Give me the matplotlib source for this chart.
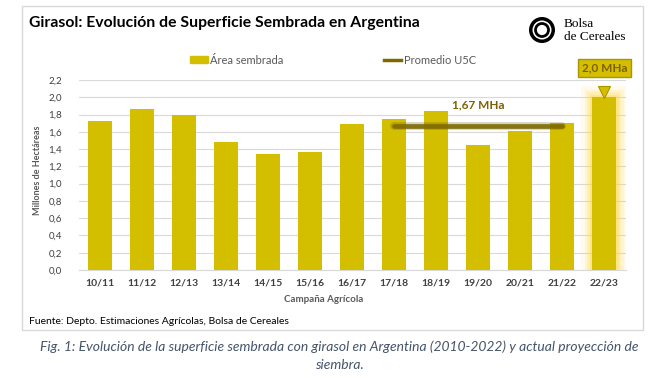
import numpy as np
import matplotlib
matplotlib.use("Agg")
import matplotlib.pyplot as plt
from matplotlib.patches import Rectangle, Ellipse, Patch
from matplotlib.lines import Line2D

plt.rcParams['font.family'] = ['Lato', 'DejaVu Sans']

campanas = ['10/11', '11/12', '12/13', '13/14', '14/15', '15/16', '16/17',
            '17/18', '18/19', '19/20', '20/21', '21/22', '22/23']
area = [1.72, 1.86, 1.79, 1.48, 1.34, 1.37, 1.69, 1.75, 1.84, 1.45, 1.61, 1.70, 2.00]
promedio = 1.67
ult5 = campanas[7:12]

bar_col = '#D4BE00'
line_col = '#7F6A00'
txt_col = '#7F6000'
gray = '#595959'

fig = plt.figure(figsize=(6.52, 3.78), dpi=100)
W, H = 652., 378.

def fx(px):
    return px / W

def fy(py):
    return 1 - py / H

# marco
fig.add_artist(Rectangle((fx(22), fy(330)), fx(643) - fx(22), fy(6) - fy(330),
                         transform=fig.transFigure, fill=False, ec='#D9D9D9', lw=1))

ax = fig.add_axes([fx(78.5), fy(270), fx(625.5) - fx(78.5), fy(80) - fy(270)])
x = np.arange(len(campanas))

# brillo de la proyeccion
for lw, a in [(16, 0.10), (11, 0.15), (7, 0.25), (3.5, 0.4)]:
    ax.bar(x[-1], area[-1], 0.57, color='none', edgecolor='#FFD84D', lw=lw, alpha=a, zorder=2)
ax.bar(x, area, 0.57, color=bar_col, zorder=3)

# promedio ultimas 5 campanas
ax.plot(x[7:12], [promedio] * len(ult5), color='#5A4B00', lw=5.5, alpha=0.25,
        solid_capstyle='round', zorder=4)
ax.plot(x[7:12], [promedio] * len(ult5), color=line_col, lw=3.4, alpha=0.9,
        solid_capstyle='round', zorder=5)
ax.annotate('1,67 MHa', (9, promedio), xytext=(0, 11), textcoords='offset points',
            ha='center', va='bottom', fontsize=8.5, fontweight='bold', color=txt_col)

# etiqueta proyeccion
ax.plot([x[-1]], [area[-1] + 0.06], marker='v', ms=8, color=bar_col, mec='#A89500',
        mew=0.8, clip_on=False, zorder=6)
ax.annotate('2,0 MHa', (x[-1], area[-1]), xytext=(0, 17), textcoords='offset points',
            ha='center', va='bottom', fontsize=8.5, fontweight='bold', color=txt_col,
            bbox=dict(boxstyle='square,pad=0.3', fc=bar_col, ec='#A89500', lw=1), zorder=7)

ax.set_xlim(-0.5, len(campanas) - 0.5)
ax.set_ylim(0, 2.2)
ax.set_yticks(np.arange(0, 2.21, 0.2))
ax.set_yticklabels([f'{v:.1f}'.replace('.', ',') for v in np.arange(0, 2.21, 0.2)],
                   fontsize=7, color='#404040')
ax.set_xticks(x)
ax.set_xticklabels(campanas, fontsize=7.5, color='#404040', fontweight='bold')
ax.tick_params(length=0, pad=6)
ax.tick_params(axis='y', pad=12)
ax.grid(axis='y', color='#D9D9D9', lw=0.8, zorder=0)
ax.set_axisbelow(True)
for s in ['top', 'right', 'left']:
    ax.spines[s].set_visible(False)
ax.spines['bottom'].set_color('#D9D9D9')

fig.text(fx(38), fy(170), 'Millones de Hectáreas', rotation=90, ha='center', va='center',
         fontsize=6.5, fontweight='bold', color=gray)
fig.text(fx(324), fy(299), 'Campaña Agrícola', ha='center', va='center',
         fontsize=7, fontweight='bold', color=gray)

# titulo
fig.text(fx(29), fy(23), 'Girasol: Evolución de Superficie Sembrada en Argentina',
         ha='left', va='center', fontsize=11.3, fontweight='bold', color='black')

# logo
fig.add_artist(Ellipse((fx(542), fy(30)), fx(26), 26 / H, transform=fig.transFigure,
                       fc='black', ec='none'))
fig.add_artist(Ellipse((fx(542), fy(30)), fx(19), 19 / H, transform=fig.transFigure,
                       fc='white', ec='none'))
fig.add_artist(Ellipse((fx(542), fy(30)), fx(13), 13 / H, transform=fig.transFigure,
                       fc='none', ec='black', lw=2))
fig.text(fx(564), fy(24), 'Bolsa', family='Liberation Serif', fontsize=9.5,
         ha='left', va='center')
fig.text(fx(564), fy(37), 'de Cereales', family='Liberation Serif', fontsize=9.5,
         ha='left', va='center')

# leyenda
handles = [Patch(color=bar_col, label='Área sembrada'),
           Line2D([], [], color=line_col, lw=2.5, label='Promedio U5C')]
fig.legend(handles=handles, loc='center', bbox_to_anchor=(fx(333), fy(60)), ncol=2,
           frameon=False, fontsize=8, labelcolor=gray, handlelength=1.6,
           handleheight=0.6, handletextpad=0.2, columnspacing=9)

fig.text(fx(29), fy(321), 'Fuente: Depto. Estimaciones Agrícolas, Bolsa de Cereales',
         ha='left', va='center', fontsize=7.5, color='black')

fig.text(fx(339), fy(347), 'Fig. 1: Evolución de la superficie sembrada con girasol en Argentina '
         '(2010-2022) y actual proyección de', ha='center', va='center',
         fontsize=10, style='italic', color='#44546A')
fig.text(fx(339), fy(365), 'siembra.', ha='center', va='center',
         fontsize=10, style='italic', color='#44546A')

fig.savefig('out.png', dpi=100)
